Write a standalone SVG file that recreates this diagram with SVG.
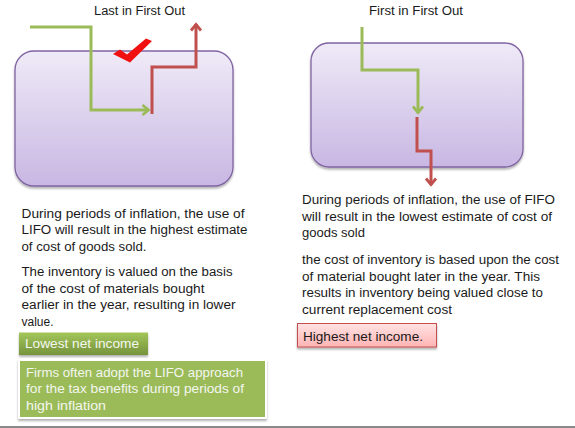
<svg xmlns="http://www.w3.org/2000/svg" width="575" height="428" viewBox="0 0 575 428">
<style>
text{font-family:"Liberation Sans",Arial,sans-serif;font-size:12.5px;fill:#1a1a1a}
.lt{fill:#f4f6f0}
.pbox{fill:url(#purple);stroke:#8064A2;stroke-width:1.3}
.g{fill:none;stroke:#9BBB59;stroke-width:3}
.r{fill:none;stroke:#C0504D;stroke-width:3}
</style>
<defs>
<linearGradient id="purple" x1="0" y1="0" x2="0" y2="1">
<stop offset="0" stop-color="#EFEAF7"/>
<stop offset="1" stop-color="#C8B7E3"/>
</linearGradient>
<linearGradient id="green" x1="0" y1="0" x2="0" y2="1">
<stop offset="0" stop-color="#A3C65A"/>
<stop offset="1" stop-color="#76933C"/>
</linearGradient>
<linearGradient id="pink" x1="0" y1="0" x2="0" y2="1">
<stop offset="0" stop-color="#FFE3E3"/>
<stop offset="1" stop-color="#FFB4B4"/>
</linearGradient>
<filter id="sh" x="-10%" y="-10%" width="120%" height="130%">
<feDropShadow dx="0" dy="2" stdDeviation="1.2" flood-color="#000" flood-opacity="0.3"/>
</filter>
<marker id="ag" markerUnits="userSpaceOnUse" viewBox="-10 -7 12 14" refX="0" refY="0" markerWidth="12" markerHeight="14" orient="auto">
<path d="M-6.5,-5 L-0.5,0 L-6.5,5" fill="none" stroke="#9BBB59" stroke-width="2.8"/>
</marker>
<marker id="ar" markerUnits="userSpaceOnUse" viewBox="-10 -7 12 14" refX="0" refY="0" markerWidth="12" markerHeight="14" orient="auto">
<path d="M-6.5,-5 L-0.5,0 L-6.5,5" fill="none" stroke="#C0504D" stroke-width="2.8"/>
</marker>
</defs>
<rect width="575" height="428" fill="#fff"/>

<g id="lifo-box">
<rect class="pbox" x="15" y="51" width="218" height="135" rx="19" filter="url(#sh)"/>
</g>
<g id="fifo-box">
<rect class="pbox" x="311" y="43" width="212" height="124" rx="18" filter="url(#sh)"/>
</g>

<g id="titles">
<text x="94" y="15" textLength="91" lengthAdjust="spacingAndGlyphs">Last in First Out</text>
<text x="369" y="15" textLength="94" lengthAdjust="spacingAndGlyphs">First in First Out</text>
</g>

<g id="connectors">
<polyline class="g" points="30,27 91,27 91,110 149,110" marker-end="url(#ag)"/>
<polyline class="r" points="152,114 152,67 196,67 196,24" marker-end="url(#ar)"/>
<polyline class="g" points="362,27 362,70 418,70 418,113" marker-end="url(#ag)"/>
<polyline class="r" points="417,117 417,151 431,151 431,185" marker-end="url(#ar)"/>
</g>

<g id="checkmark">
<polygon points="113,54 120,49.5 127,54.5 146,38.5 152,41 130,62.5" fill="#F01010"/>
</g>

<g id="lifo-text">
<text x="21.5" y="217.5" textLength="223" lengthAdjust="spacingAndGlyphs">During periods of inflation, the use of</text>
<text x="21.5" y="234.2" textLength="226" lengthAdjust="spacingAndGlyphs">LIFO will result in the highest estimate</text>
<text x="21.5" y="250.9" textLength="125" lengthAdjust="spacingAndGlyphs">of cost of goods sold.</text>
<text x="21.5" y="276" textLength="211" lengthAdjust="spacingAndGlyphs">The inventory is valued on the basis</text>
<text x="21.5" y="292.7" textLength="183" lengthAdjust="spacingAndGlyphs">of the cost of materials bought</text>
<text x="21.5" y="309.4" textLength="214" lengthAdjust="spacingAndGlyphs">earlier in the year, resulting in lower</text>
<text x="21.5" y="326.1" textLength="32" lengthAdjust="spacingAndGlyphs">value.</text>
</g>

<g id="lowest-net-income">
<rect x="19" y="332.5" width="129" height="22.5" fill="url(#green)" filter="url(#sh)"/>
<text class="lt" x="25" y="348" textLength="114" lengthAdjust="spacingAndGlyphs">Lowest net income</text>
</g>

<g id="tax-note">
<rect x="19" y="360" width="247" height="58" fill="#9BBB59" stroke="#fff" stroke-width="2" filter="url(#sh)"/>
<text class="lt" x="26" y="376.5" textLength="217" lengthAdjust="spacingAndGlyphs">Firms often adopt the LIFO approach</text>
<text class="lt" x="26" y="393.2" textLength="218" lengthAdjust="spacingAndGlyphs">for the tax benefits during periods of</text>
<text class="lt" x="26" y="409.9" textLength="80" lengthAdjust="spacingAndGlyphs">high inflation</text>
</g>

<g id="fifo-text">
<text x="302" y="204" textLength="253" lengthAdjust="spacingAndGlyphs">During periods of inflation, the use of FIFO</text>
<text x="302" y="220.7" textLength="250" lengthAdjust="spacingAndGlyphs">will result in the lowest estimate of cost of</text>
<text x="302" y="237.4" textLength="63" lengthAdjust="spacingAndGlyphs">goods sold</text>
<text x="302" y="264" textLength="257" lengthAdjust="spacingAndGlyphs">the cost of inventory is based upon the cost</text>
<text x="302" y="280.7" textLength="238" lengthAdjust="spacingAndGlyphs">of material bought later in the year. This</text>
<text x="302" y="297.4" textLength="241" lengthAdjust="spacingAndGlyphs">results in inventory being valued close to</text>
<text x="302" y="314.1" textLength="150" lengthAdjust="spacingAndGlyphs">current replacement cost</text>
</g>

<g id="highest-net-income">
<rect x="297.5" y="323.5" width="139" height="23.5" fill="url(#pink)" stroke="#C0504D" stroke-width="1" filter="url(#sh)"/>
<text x="303" y="340.5" textLength="120" lengthAdjust="spacingAndGlyphs">Highest net income.</text>
</g>

<line x1="0" y1="427" x2="575" y2="427" stroke="#8a8a8a" stroke-width="2"/>
</svg>
